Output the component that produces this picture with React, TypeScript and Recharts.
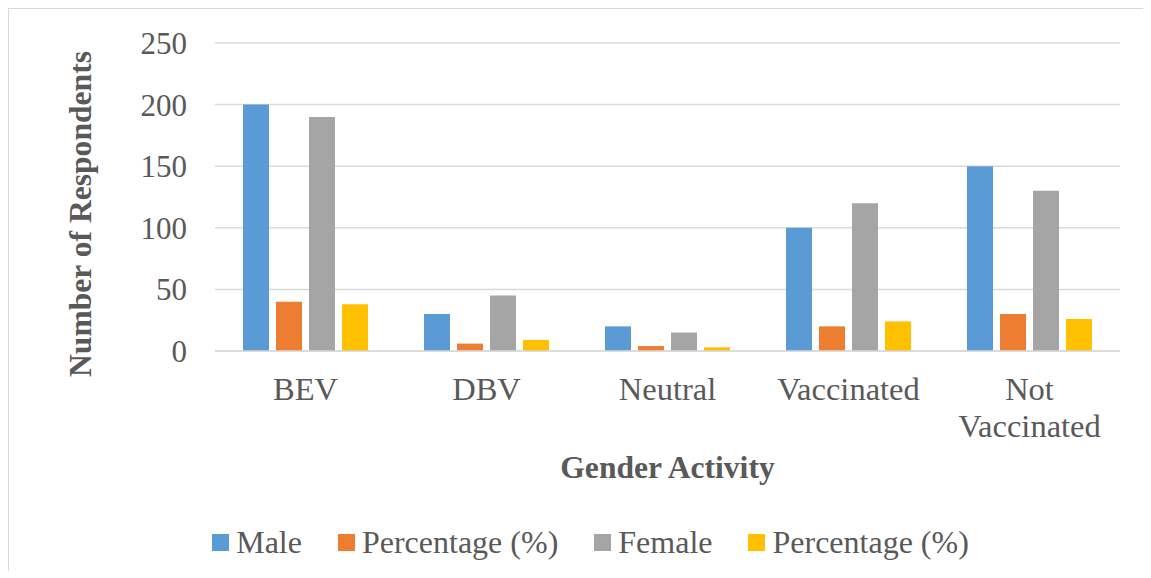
import { Bar, BarChart, CartesianGrid, Label, Legend, XAxis, YAxis } from 'recharts'

const categories = ['BEV', 'DBV', 'Neutral', 'Vaccinated', 'Not Vaccinated']
const male = [200, 30, 20, 100, 150]
const malePct = [40, 6, 4, 20, 30]
const female = [190, 45, 15, 120, 130]
const femalePct = [38, 9, 3, 24, 26]
const yTicks = [0, 50, 100, 150, 200, 250]

const series = [
  { key: 'male', name: 'Male', color: '#5B9BD5' },
  { key: 'malePct', name: 'Percentage (%)', color: '#ED7D31' },
  { key: 'female', name: 'Female', color: '#A5A5A5' },
  { key: 'femalePct', name: 'Percentage (%)', color: '#FFC000' },
]

const rows = categories.map((c, i) => ({
  category: c,
  male: male[i],
  malePct: malePct[i],
  female: female[i],
  femalePct: femalePct[i],
}))

const FONT = '"Liberation Serif", "Times New Roman", serif'
const TEXT = '#595959'

function CategoryTick(props: any) {
  const { x, y, payload } = props
  const lines = String(payload.value).split(' ')
  return (
    <text x={x} y={y + 47} textAnchor="middle" fill={TEXT} fontSize={32.5} fontFamily={FONT}>
      {lines.map((l, i) => (
        <tspan key={i} x={x} dy={i === 0 ? 0 : 37}>
          {l}
        </tspan>
      ))}
    </text>
  )
}

function LegendBox() {
  return (
    <div
      style={{
        display: 'flex',
        justifyContent: 'center',
        alignItems: 'center',
        height: 36,
        paddingLeft: 52,
        fontFamily: FONT,
        fontSize: 32,
        color: TEXT,
      }}
    >
      {series.map((s, i) => (
        <div key={s.key} style={{ display: 'flex', alignItems: 'center', marginLeft: i === 0 ? 0 : 36 }}>
          <span style={{ width: 17, height: 17, background: s.color, marginRight: 7, display: 'inline-block' }} />
          <span style={{ lineHeight: '36px' }}>{s.name}</span>
        </div>
      ))}
    </div>
  )
}

export default function App() {
  return (
    <div
      style={{
        width: 1135,
        height: 562,
        borderTop: '1px solid #d9d9d9',
        borderLeft: '1px solid #d9d9d9',
        background: '#fff',
      }}
    >
      <BarChart
        width={1134}
        height={561}
        data={rows}
        margin={{ top: 34, right: 23, bottom: 10, left: 0 }}
        barSize={26}
        barGap={7}
      >
        <CartesianGrid vertical={false} stroke="#d9d9d9" strokeWidth={1.5} />
        <XAxis
          dataKey="category"
          height={173}
          tickLine={false}
          tickSize={0}
          axisLine={{ stroke: '#d9d9d9', strokeWidth: 1.5 }}
          tick={<CategoryTick />}
          interval={0}
        >
          <Label
            content={(p: any) => {
              const vb = p.viewBox
              return (
                <text
                  x={vb.x + vb.width / 2}
                  y={vb.y + 127}
                  textAnchor="middle"
                  fill={TEXT}
                  fontSize={31.6}
                  fontWeight="bold"
                  fontFamily={FONT}
                >
                  Gender Activity
                </text>
              )
            }}
          />
        </XAxis>
        <YAxis
          width={206}
          domain={[0, 250]}
          ticks={yTicks}
          tickLine={false}
          axisLine={false}
          tickSize={0}
          tickMargin={28}
          tick={{ fill: TEXT, fontSize: 31, fontFamily: FONT }}
        >
          <Label
            content={(p: any) => {
              const vb = p.viewBox
              const cx = 71
              const cy = vb.y + vb.height / 2 + 17
              return (
                <text
                  x={cx}
                  y={cy}
                  transform={`rotate(-90 ${cx} ${cy})`}
                  textAnchor="middle"
                  dominantBaseline="central"
                  fill={TEXT}
                  fontSize={31.6}
                  fontWeight="bold"
                  fontFamily={FONT}
                >
                  Number of Respondents
                </text>
              )
            }}
          />
        </YAxis>
        <Legend verticalAlign="bottom" content={() => <LegendBox />} />
        {series.map((s) => (
          <Bar key={s.key} dataKey={s.key} name={s.name} fill={s.color} isAnimationActive={false} />
        ))}
      </BarChart>
    </div>
  )
}
